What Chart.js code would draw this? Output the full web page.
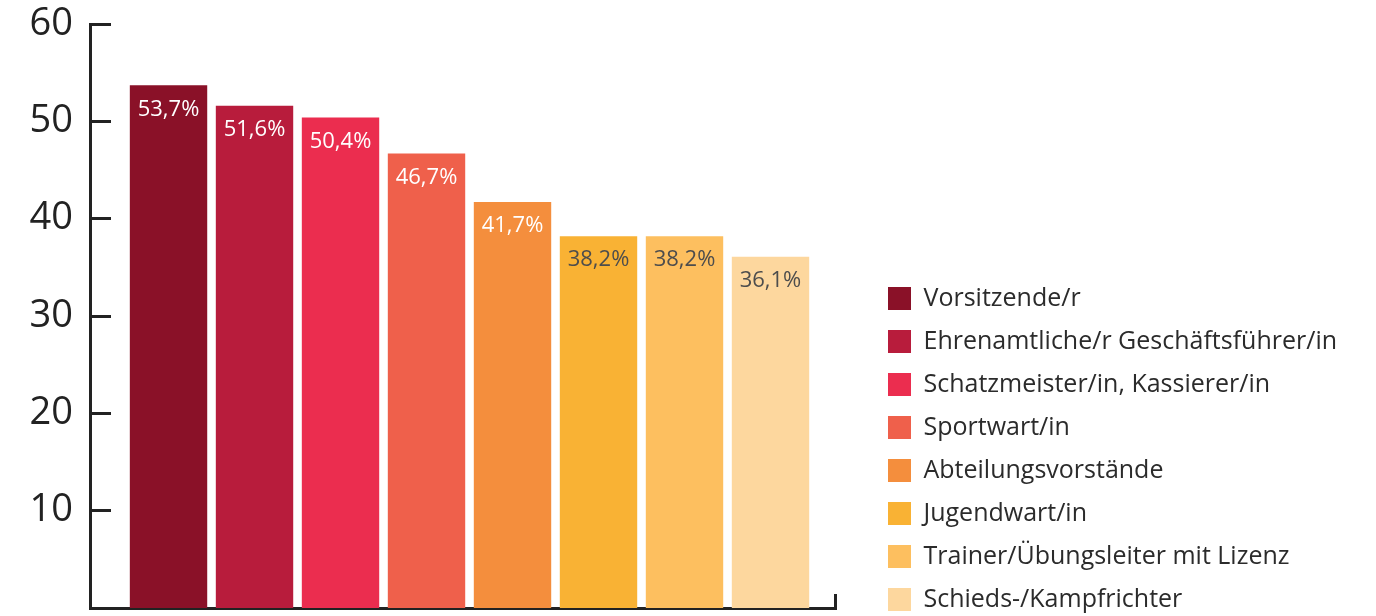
<!DOCTYPE html>
<html>
<head>
<meta charset="utf-8">
<script src="https://cdn.jsdelivr.net/npm/chart.js@4.4.1/dist/chart.umd.min.js"></script>
<style>
html,body{margin:0;padding:0;background:#ffffff;}
canvas{display:block;}
</style>
</head>
<body>
<canvas id="c" width="1376" height="616"></canvas>
<script>
// ---- data ----
const categories = [
  'Vorsitzende/r',
  'Ehrenamtliche/r Geschäftsführer/in',
  'Schatzmeister/in, Kassierer/in',
  'Sportwart/in',
  'Abteilungsvorstände',
  'Jugendwart/in',
  'Trainer/Übungsleiter mit Lizenz',
  'Schieds-/Kampfrichter'
];
const values = [53.7, 51.6, 50.4, 46.7, 41.7, 38.2, 38.2, 36.1];
const barColors = ['#8A1128', '#B81C3C', '#EB2D4F', '#EF604B', '#F48E3D', '#F9B234', '#FDBF5F', '#FDD79E'];
const valueLabelColors = ['#ffffff', '#ffffff', '#ffffff', '#ffffff', '#ffffff', '#4d4d4d', '#4d4d4d', '#4d4d4d'];
const yTicks = [10, 20, 30, 40, 50, 60];

// ---- styling / layout ----
const FONT = '"Open Sans"';
const LEGEND_FONT_SIZE = 25;
const LEGEND_BOX = 23;
const LEGEND_PAD = 43 - Math.max(LEGEND_FONT_SIZE, LEGEND_BOX);
const AXIS_COLOR = '#222222';

// measure longest legend text so the legend box starts where wanted
const mctx = document.createElement('canvas').getContext('2d');
mctx.font = LEGEND_FONT_SIZE + 'px ' + FONT;
const maxTextW = Math.max(...categories.map(c => mctx.measureText(c).width));
const legendLeft = 888 - LEGEND_PAD;
const legendWidth = LEGEND_PAD + LEGEND_BOX + LEGEND_FONT_SIZE / 2 + maxTextW + 10;
const padRight = Math.max(0, 1376 - legendLeft - legendWidth);

const points = values.map((v, i) => ({x: i, y: v}));

const valueLabelPlugin = {
  id: 'valueLabels',
  afterDatasetsDraw(chart) {
    const ctx = chart.ctx;
    const meta = chart.getDatasetMeta(0);
    ctx.save();
    ctx.font = '22px ' + FONT;
    ctx.textAlign = 'center';
    ctx.textBaseline = 'middle';
    meta.data.forEach((el, i) => {
      ctx.fillStyle = valueLabelColors[i];
      ctx.fillText(values[i].toFixed(1).replace('.', ',') + '%', el.x, el.y + 24);
    });
    ctx.restore();
  }
};

new Chart(document.getElementById('c'), {
  type: 'bar',
  data: {
    datasets: [{
      data: points,
      backgroundColor: barColors,
      borderWidth: 0,
      categoryPercentage: 1,
      barPercentage: 0.9
    }]
  },
  options: {
    responsive: false,
    animation: false,
    layout: {padding: {top: 24, left: 0, right: padRight, bottom: -14}},
    plugins: {
      tooltip: {enabled: false},
      legend: {
        position: 'right',
        align: 'end',
        maxWidth: Math.ceil(legendWidth) + 2,
        labels: {
          boxWidth: LEGEND_BOX,
          boxHeight: LEGEND_BOX,
          padding: LEGEND_PAD,
          color: '#2b2b2b',
          font: {family: FONT, size: LEGEND_FONT_SIZE},
          generateLabels: () => categories.map((c, i) => ({
            text: c,
            fillStyle: barColors[i],
            strokeStyle: barColors[i],
            lineWidth: 0,
            hidden: false,
            index: i,
            fontColor: '#2b2b2b'
          }))
        },
        onClick: () => {}
      }
    },
    scales: {
      x: {
        type: 'linear',
        offset: false,
        min: -0.913,
        max: 7.75,
        afterBuildTicks: s => { s.ticks = [{value: s.max}]; },
        afterFit: s => { s.height = 22; s.paddingLeft = 0; s.paddingRight = 0; },
        ticks: {display: false},
        grid: {display: true, offset: false, drawOnChartArea: false, drawTicks: true, tickLength: -14, color: AXIS_COLOR, lineWidth: 3},
        border: {display: true, color: AXIS_COLOR, width: 3}
      },
      y: {
        min: 0,
        max: 60,
        afterBuildTicks: s => { s.ticks = yTicks.map(v => ({value: v})); },
        afterFit: s => { s.width = 90; s.paddingTop = 0; s.paddingBottom = 0; },
        ticks: {
          color: AXIS_COLOR,
          padding: 38,
          font: {family: FONT, size: 38},
          callback: v => String(v)
        },
        grid: {display: true, drawOnChartArea: false, drawTicks: true, tickLength: -21, color: AXIS_COLOR, lineWidth: 3},
        border: {display: true, color: AXIS_COLOR, width: 3}
      },
      y2: {
        position: 'right',
        display: true,
        afterFit: s => { s.width = 35; s.paddingTop = 0; s.paddingBottom = 0; },
        ticks: {display: false},
        grid: {display: false},
        border: {display: false}
      }
    }
  },
  plugins: [valueLabelPlugin]
});
</script>
</body>
</html>
